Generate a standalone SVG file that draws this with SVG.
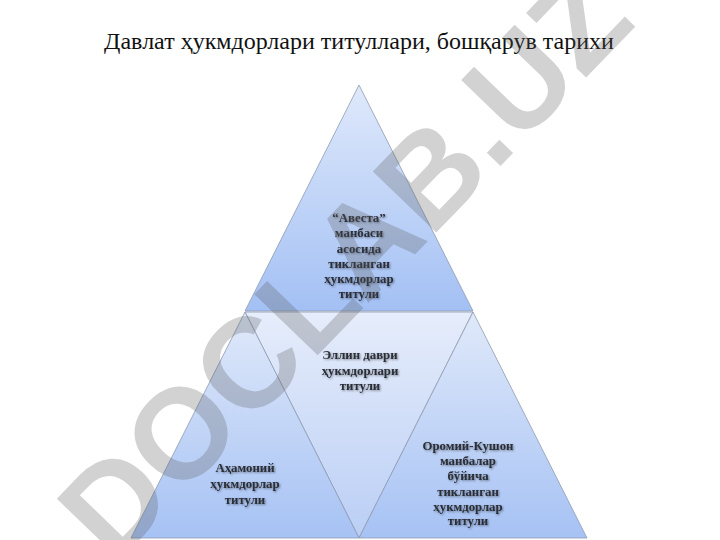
<svg xmlns="http://www.w3.org/2000/svg" width="720" height="540" viewBox="0 0 720 540">
<defs>
<style>
.title{font-family:"Liberation Serif","Times New Roman",serif;font-size:24px;fill:#111;}
.lbl{font-family:"Liberation Serif","Times New Roman",serif;font-size:12.8px;font-weight:bold;fill:#2a2d36;text-anchor:middle;}
.tri{stroke:#8e9bb0;stroke-width:0.8;}
.wm{font-family:"Liberation Sans",Arial,sans-serif;font-weight:bold;font-size:128px;fill:#5a5a5a;fill-opacity:0.27;text-anchor:middle;}
</style>
<linearGradient id="gTop" x1="0" y1="0" x2="0" y2="1">
<stop offset="0" stop-color="#dfe9fb"/>
<stop offset="1" stop-color="#a3c0f4"/>
</linearGradient>
<linearGradient id="gMid" x1="0" y1="0" x2="0" y2="1">
<stop offset="0" stop-color="#e6edfb"/>
<stop offset="1" stop-color="#bacef5"/>
</linearGradient>
<linearGradient id="gBot" x1="0" y1="0" x2="0" y2="1">
<stop offset="0" stop-color="#e0e9fa"/>
<stop offset="1" stop-color="#a6c2f4"/>
</linearGradient>
<filter id="sh" x="-10%" y="-30%" width="120%" height="160%">
<feGaussianBlur in="SourceAlpha" stdDeviation="0.9" result="b"/>
<feOffset in="b" dx="0.5" dy="0.8" result="o"/>
<feComponentTransfer in="o" result="o2"><feFuncA type="linear" slope="0.45"/></feComponentTransfer>
<feMerge><feMergeNode in="o2"/><feMergeNode in="SourceGraphic"/></feMerge>
</filter>
</defs>
<rect width="720" height="540" fill="#ffffff"/>
<text class="title" x="359" y="49" text-anchor="middle">Давлат ҳукмдорлари титуллари, бошқарув тарихи</text>

<g id="connectors"></g>

<g id="node-top">
<polygon class="tri" points="359,85 473,311 245,311" fill="url(#gTop)"/>
<g filter="url(#sh)">
<text class="lbl" x="359" y="222">“Авеста”</text>
<text class="lbl" x="359" y="237">манбаси</text>
<text class="lbl" x="359" y="252.5">асосида</text>
<text class="lbl" x="359" y="268">тикланган</text>
<text class="lbl" x="359" y="283">ҳукмдорлар</text>
<text class="lbl" x="359" y="298">титули</text>
</g>
</g>

<g id="node-middle">
<polygon class="tri" points="245,312 473,312 359,538" fill="url(#gMid)"/>
<g filter="url(#sh)">
<text class="lbl" x="360" y="359">Эллин даври</text>
<text class="lbl" x="360" y="375">ҳукмдорлари</text>
<text class="lbl" x="360" y="390">титули</text>
</g>
</g>

<g id="node-left">
<polygon class="tri" points="245,312 359,538 131,538" fill="url(#gBot)"/>
<g filter="url(#sh)">
<text class="lbl" x="245" y="472">Аҳамоний</text>
<text class="lbl" x="245" y="488">ҳукмдорлар</text>
<text class="lbl" x="245" y="504">титули</text>
</g>
</g>

<g id="node-right">
<polygon class="tri" points="473,312 587,538 359,538" fill="url(#gBot)"/>
<g filter="url(#sh)">
<text class="lbl" x="468" y="450">Оромий-Кушон</text>
<text class="lbl" x="468" y="465">манбалар</text>
<text class="lbl" x="468" y="480">бўйича</text>
<text class="lbl" x="468" y="496">тикланган</text>
<text class="lbl" x="468" y="511">ҳукмдорлар</text>
<text class="lbl" x="468" y="525">титули</text>
</g>
</g>

<text class="wm" x="376" y="295" transform="rotate(-46 376 295)">DOCLAB.UZ</text>
</svg>
